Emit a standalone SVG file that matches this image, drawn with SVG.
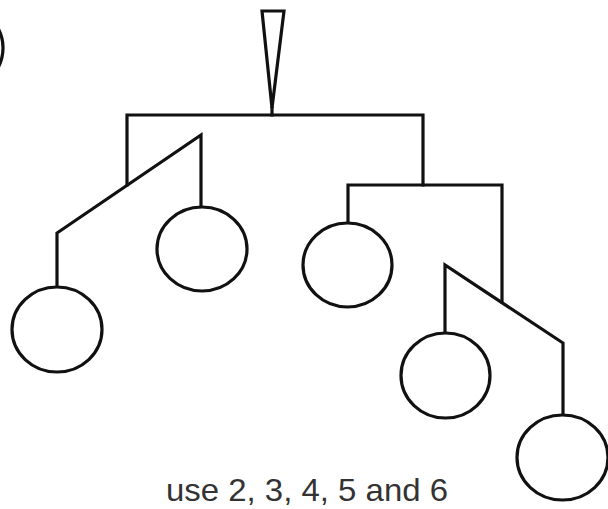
<svg xmlns="http://www.w3.org/2000/svg" width="608" height="509" viewBox="0 0 608 509">
<style>
.ln{fill:none;stroke:#111;stroke-width:3.2;stroke-linejoin:miter;stroke-linecap:square}
.nd{fill:#fff;stroke:#111;stroke-width:3.2}
.lbl{font-family:"Liberation Sans",Arial,sans-serif;font-size:32px;fill:#333}
</style>
<rect width="608" height="509" fill="#fff"/>
<g id="partial-node">
<ellipse class="nd" cx="-42" cy="48" rx="45" ry="42.5" stroke="#777"/>
</g>
<g id="connectors">
<path class="ln" d="M262,11 H284 L272,108 Z"/>
<path class="ln" d="M272,108 V115"/>
<path class="ln" d="M127,185 V115 H423 V185"/>
<path class="ln" d="M57,287 V233 L201,135 V207"/>
<path class="ln" d="M348,223 V185 H502 V302"/>
<path class="ln" d="M445,333 V265 L563,343 V415"/>
</g>
<g id="node1"><ellipse class="nd" cx="57" cy="329.5" rx="45" ry="42.5"/></g>
<g id="node2"><ellipse class="nd" cx="202" cy="249" rx="45" ry="42"/></g>
<g id="node3"><ellipse class="nd" cx="347.5" cy="265" rx="44.5" ry="42"/></g>
<g id="node4"><ellipse class="nd" cx="445.5" cy="375.5" rx="44.5" ry="42.5"/></g>
<g id="node5"><ellipse class="nd" cx="562.5" cy="457.5" rx="45.5" ry="42.5"/></g>
<text class="lbl" x="166" y="501" textLength="282" lengthAdjust="spacingAndGlyphs">use 2, 3, 4, 5 and 6</text>
</svg>
